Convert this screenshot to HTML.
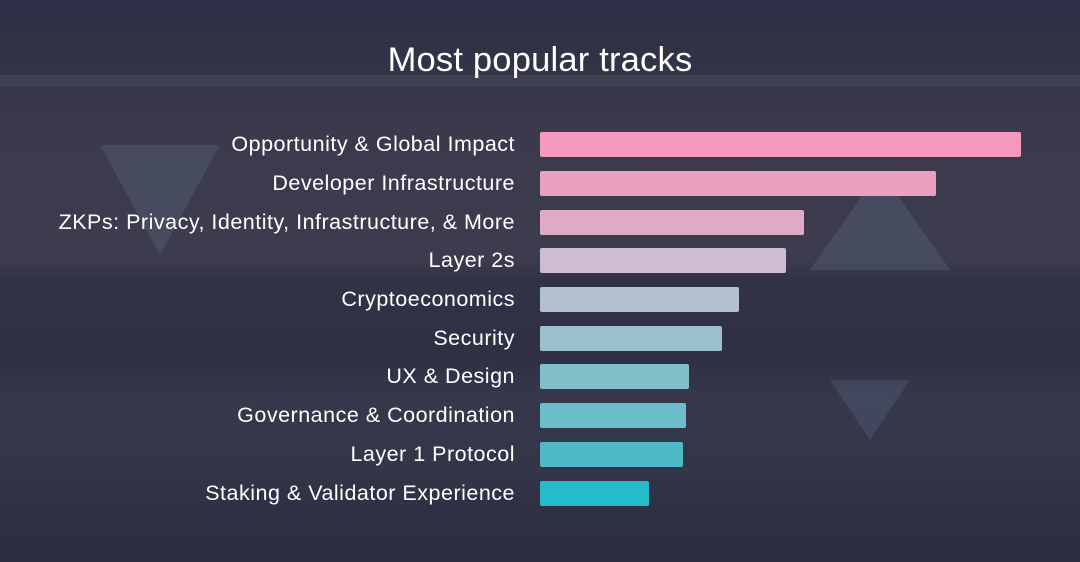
<!DOCTYPE html>
<html><head><meta charset="utf-8"><style>
html,body{margin:0;padding:0}
body{width:1080px;height:562px;overflow:hidden;position:relative;font-family:"Liberation Sans",sans-serif;
background:linear-gradient(180deg,#2c2f45 0px,#353448 80px,#3b3a4c 130px,#3d3c4e 260px,#313246 280px,#2f3044 360px,#36384b 400px,#333548 470px,#2e2f42 520px,#2d2e41 562px);}
.t{position:absolute;left:0;width:1080px;text-align:center;top:41px;color:#fff;font-size:34.5px;letter-spacing:0.2px}
.l{position:absolute;right:565px;color:#fff;font-size:21.5px;letter-spacing:0.5px;white-space:nowrap;line-height:25px}
.b{position:absolute;left:540px;height:25px;border-radius:2px}
.tri{position:absolute;width:0;height:0;opacity:.13}
</style></head><body>
<div style="position:absolute;left:0;top:75px;width:1080px;height:12px;background:#4a4a5c;opacity:.5"></div>
<div class="tri" style="left:100px;top:145px;border-left:60px solid transparent;border-right:60px solid transparent;border-top:110px solid #8fb6d6"></div>
<div class="tri" style="left:810px;top:170px;border-left:70px solid transparent;border-right:70px solid transparent;border-bottom:100px solid #8fb6d6"></div>
<div class="tri" style="left:830px;top:380px;border-left:40px solid transparent;border-right:40px solid transparent;border-top:60px solid #8fb6d6"></div>
<div class="t">Most popular tracks</div>
<div class="l" style="top:132px">Opportunity &amp; Global Impact</div>
<div class="l" style="top:171px">Developer Infrastructure</div>
<div class="l" style="top:210px">ZKPs: Privacy, Identity, Infrastructure, &amp; More</div>
<div class="l" style="top:248px">Layer 2s</div>
<div class="l" style="top:287px">Cryptoeconomics</div>
<div class="l" style="top:326px">Security</div>
<div class="l" style="top:364px">UX &amp; Design</div>
<div class="l" style="top:403px">Governance &amp; Coordination</div>
<div class="l" style="top:442px">Layer 1 Protocol</div>
<div class="l" style="top:481px">Staking &amp; Validator Experience</div>
<div class="b" style="top:132px;width:481px;background:#f59abd"></div>
<div class="b" style="top:171px;width:396px;background:#eba0bf"></div>
<div class="b" style="top:210px;width:264px;background:#e0aac6"></div>
<div class="b" style="top:248px;width:246px;background:#cdbcd2"></div>
<div class="b" style="top:287px;width:199px;background:#b4bfcf"></div>
<div class="b" style="top:326px;width:182px;background:#9bbfcc"></div>
<div class="b" style="top:364px;width:149px;background:#81bfca"></div>
<div class="b" style="top:403px;width:146px;background:#6cbfca"></div>
<div class="b" style="top:442px;width:143px;background:#4fbac7"></div>
<div class="b" style="top:481px;width:109px;background:#25bcc9"></div>
</body></html>
